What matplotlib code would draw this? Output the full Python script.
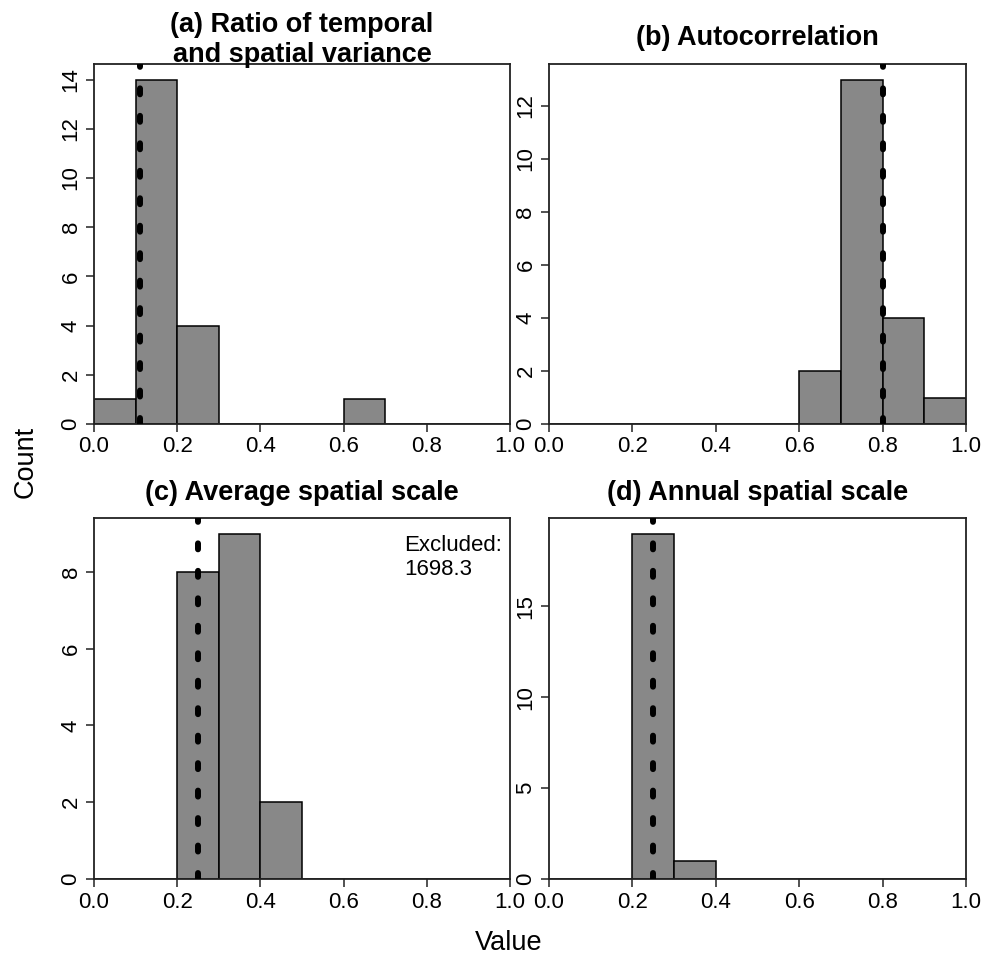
import numpy as np
import matplotlib
matplotlib.use("Agg")
import matplotlib.pyplot as plt

plt.rcParams["font.family"] = ["Liberation Sans", "DejaVu Sans"]

# histogram data: bin edges and counts per panel
bin_edges = [0.0, 0.1, 0.2, 0.3, 0.4, 0.5, 0.6, 0.7, 0.8, 0.9, 1.0]
counts_a = [1, 14, 4, 0, 0, 0, 1, 0, 0, 0]
counts_b = [0, 0, 0, 0, 0, 0, 2, 13, 4, 1]
counts_c = [0, 0, 8, 9, 2, 0, 0, 0, 0, 0]
counts_d = [0, 0, 19, 1, 0, 0, 0, 0, 0, 0]

# reference (dotted) line per panel
ref_a, ref_b, ref_c, ref_d = 0.11, 0.80, 0.25, 0.25

titles = ["(a) Ratio of temporal\nand spatial variance",
          "(b) Autocorrelation",
          "(c) Average spatial scale",
          "(d) Annual spatial scale"]
yticks_a = [0, 2, 4, 6, 8, 10, 12, 14]
yticks_b = [0, 2, 4, 6, 8, 10, 12]
yticks_c = [0, 2, 4, 6, 8]
yticks_d = [0, 5, 10, 15]
xticks = [0.0, 0.2, 0.4, 0.6, 0.8, 1.0]

W, H = 990, 957
fig = plt.figure(figsize=(W / 100, H / 100), dpi=100)

# panel boxes in pixels: (left, top, right, bottom), title centre y
boxes = [(94, 64, 510, 424), (549, 64, 966, 424),
         (94, 518, 510, 879), (549, 518, 966, 879)]
title_y = [40, 38, 493, 493]
panels = [(counts_a, ref_a, yticks_a), (counts_b, ref_b, yticks_b),
          (counts_c, ref_c, yticks_c), (counts_d, ref_d, yticks_d)]

fs = 16
fs_big = 19.5
edges = np.array(bin_edges)
for i, ((l, t, r, b), (counts, ref, yt)) in enumerate(zip(boxes, panels)):
    ax = fig.add_axes([l / W, 1 - b / H, (r - l) / W, (b - t) / H])
    ax.bar(edges[:-1], counts, width=np.diff(edges), align="edge",
           color="#888888", edgecolor="black", linewidth=1.1, zorder=2)
    ax.axvline(ref, color="black", linewidth=4.3, dashes=(1.0, 3.6),
               dash_capstyle="round", zorder=3)
    ax.set_xlim(0, 1)
    ax.set_ylim(0, max(counts) * 1.045)
    ax.set_xticks(xticks)
    ax.set_xticklabels([f"{v:.1f}" for v in xticks])
    ax.set_yticks(yt)
    ax.set_yticklabels([str(v) for v in yt], rotation=90, va="center")
    ax.tick_params(direction="out", length=6, width=1.1, labelsize=fs,
                   pad=3, color="#222222")
    for s in ax.spines.values():
        s.set_linewidth(1.3)
        s.set_color("#222222")
    fig.text((l + r) / 2 / W, 1 - title_y[i] / H, titles[i],
             fontsize=fs_big, fontweight="bold", ha="center", va="center",
             linespacing=1.22, zorder=0)

    if i == 2:
        ax.text(0.745, 8.95, "Excluded:\n1698.3", fontsize=fs, va="top",
                ha="left", linespacing=1.15)

fig.text(26 / W, 1 - 462 / H, "Count", rotation=90, fontsize=fs_big,
         ha="center", va="center")
fig.text(509 / W, 1 - 943 / H, "Value", fontsize=fs_big, ha="center",
         va="center")

fig.savefig("out.png", dpi=100)
